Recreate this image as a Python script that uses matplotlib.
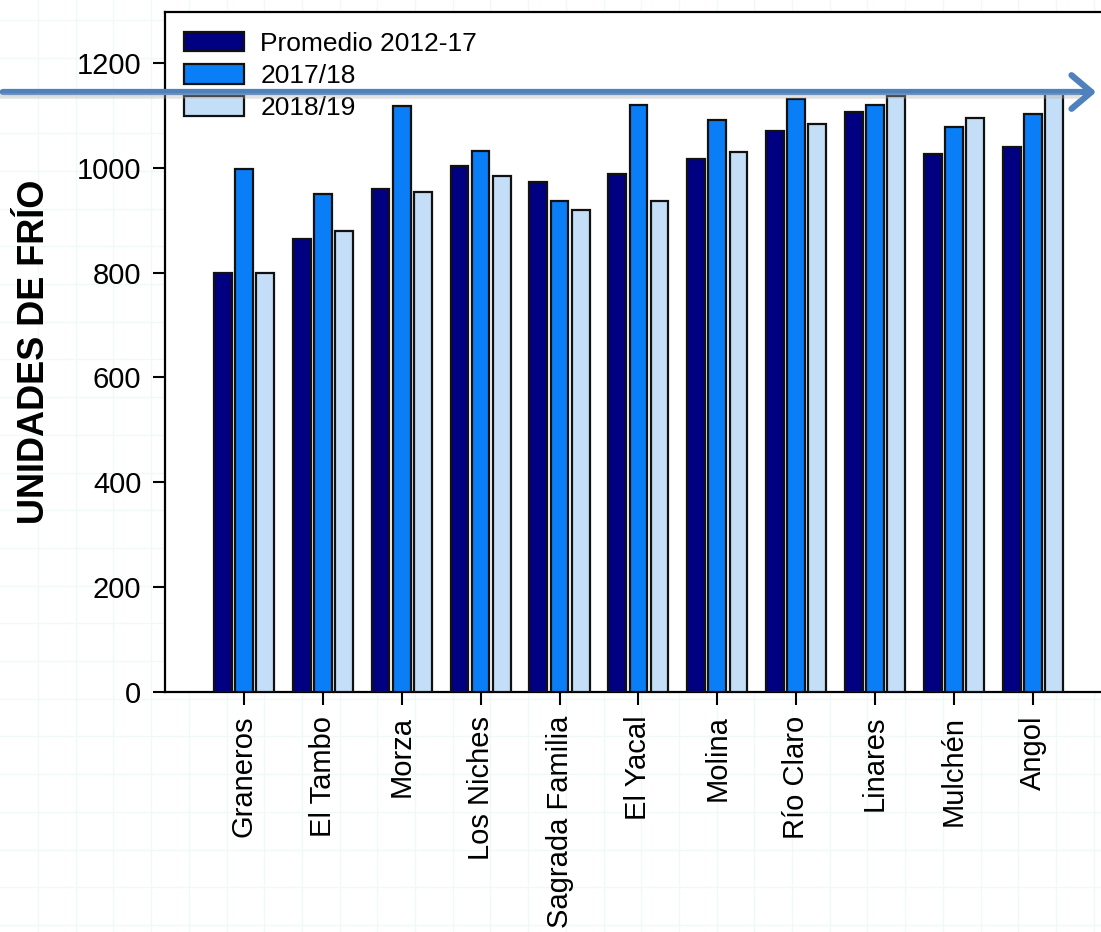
import matplotlib
matplotlib.use("Agg")
import matplotlib.pyplot as plt
import numpy as np
from matplotlib.lines import Line2D

plt.rcParams['font.family'] = ['Liberation Sans', 'DejaVu Sans']

# Chill units per station
stations = ["Graneros", "El Tambo", "Morza", "Los Niches", "Sagrada Familia",
            "El Yacal", "Molina", "Río Claro", "Linares", "Mulchén", "Angol"]
avg_2012_17 = [800, 864, 960, 1004, 973, 988, 1017, 1070, 1106, 1026, 1040]
season_2017_18 = [997, 949, 1118, 1031, 937, 1120, 1091, 1131, 1120, 1078, 1103]
season_2018_19 = [800, 880, 953, 985, 919, 937, 1030, 1083, 1137, 1095, 1146]
series_labels = ["Promedio 2012-17", "2017/18", "2018/19"]
series_colors = ["#000080", "#0a7ef7", "#c4def8"]
yticks = [0, 200, 400, 600, 800, 1000, 1200]

W, H = 1101, 932
fig = plt.figure(figsize=(W / 100, H / 100), dpi=100)
fig.patch.set_facecolor("white")

# faint squared background
for gx in np.arange(38, W, 37.7):
    fig.add_artist(Line2D([gx / W, gx / W], [0, 1], color="#f0f8f8", lw=1, zorder=0))
for gy in np.arange(925, 0, -37.7):
    fig.add_artist(Line2D([0, 1], [1 - gy / H, 1 - gy / H], color="#f0f8f8", lw=1, zorder=0))

ax_left, ax_bottom = 165 / W, (H - 692) / H
ax_h = (692 - 12) / H
ax_w = 12 * 78.9 / W
ax = fig.add_axes([ax_left, ax_bottom, ax_w, ax_h])
ax.set_facecolor("white")

x = np.arange(1, len(stations) + 1)
bw = 0.225
pitch = 0.268
for i, (vals, lab, col) in enumerate(zip([avg_2012_17, season_2017_18, season_2018_19],
                                         series_labels, series_colors)):
    ax.bar(x + (i - 1) * pitch, vals, width=bw, color=col, edgecolor="#111111",
           linewidth=1.6, label=lab, zorder=3)

ax.set_xlim(0, 12)
ax.set_ylim(0, 1297)
ax.set_yticks(yticks)
ax.set_xticks(x)
ax.set_xticklabels(stations, rotation=90, fontsize=21)
ax.tick_params(axis="y", labelsize=21, length=9, width=1.5, direction="out", pad=8)
ax.tick_params(axis="x", length=9, width=1.5, direction="out", pad=8)
for s in ["left", "bottom", "top"]:
    ax.spines[s].set_linewidth(1.6)
ax.spines["right"].set_visible(False)

ax.set_ylabel("UNIDADES DE FRÍO", fontsize=26, fontweight="bold", labelpad=18)

leg = ax.legend(loc="upper left", bbox_to_anchor=(0.003, 0.994), frameon=False,
                fontsize=19, handlelength=2.3, handleheight=0.75,
                handletextpad=0.6, labelspacing=0.31, borderaxespad=0.2)
for p in leg.get_patches():
    p.set_linewidth(1.6)

# long arrow drawn across the figure, with a soft shadow under it
fig.add_artist(Line2D([0, 1080 / W], [1 - 96 / H, 1 - 96 / H], color="#b0b0b0",
                      lw=4, alpha=0.35, zorder=9, solid_capstyle="butt"))
ax.annotate("", xy=(1099 / W, 1 - 92 / H), xytext=(0, 1 - 92 / H),
            xycoords="figure fraction", textcoords="figure fraction",
            arrowprops=dict(arrowstyle="->,head_length=0.65,head_width=0.55",
                            mutation_scale=22, color="#4f81bd", lw=4.5),
            zorder=10, annotation_clip=False)

fig.savefig("out.png", dpi=100)
